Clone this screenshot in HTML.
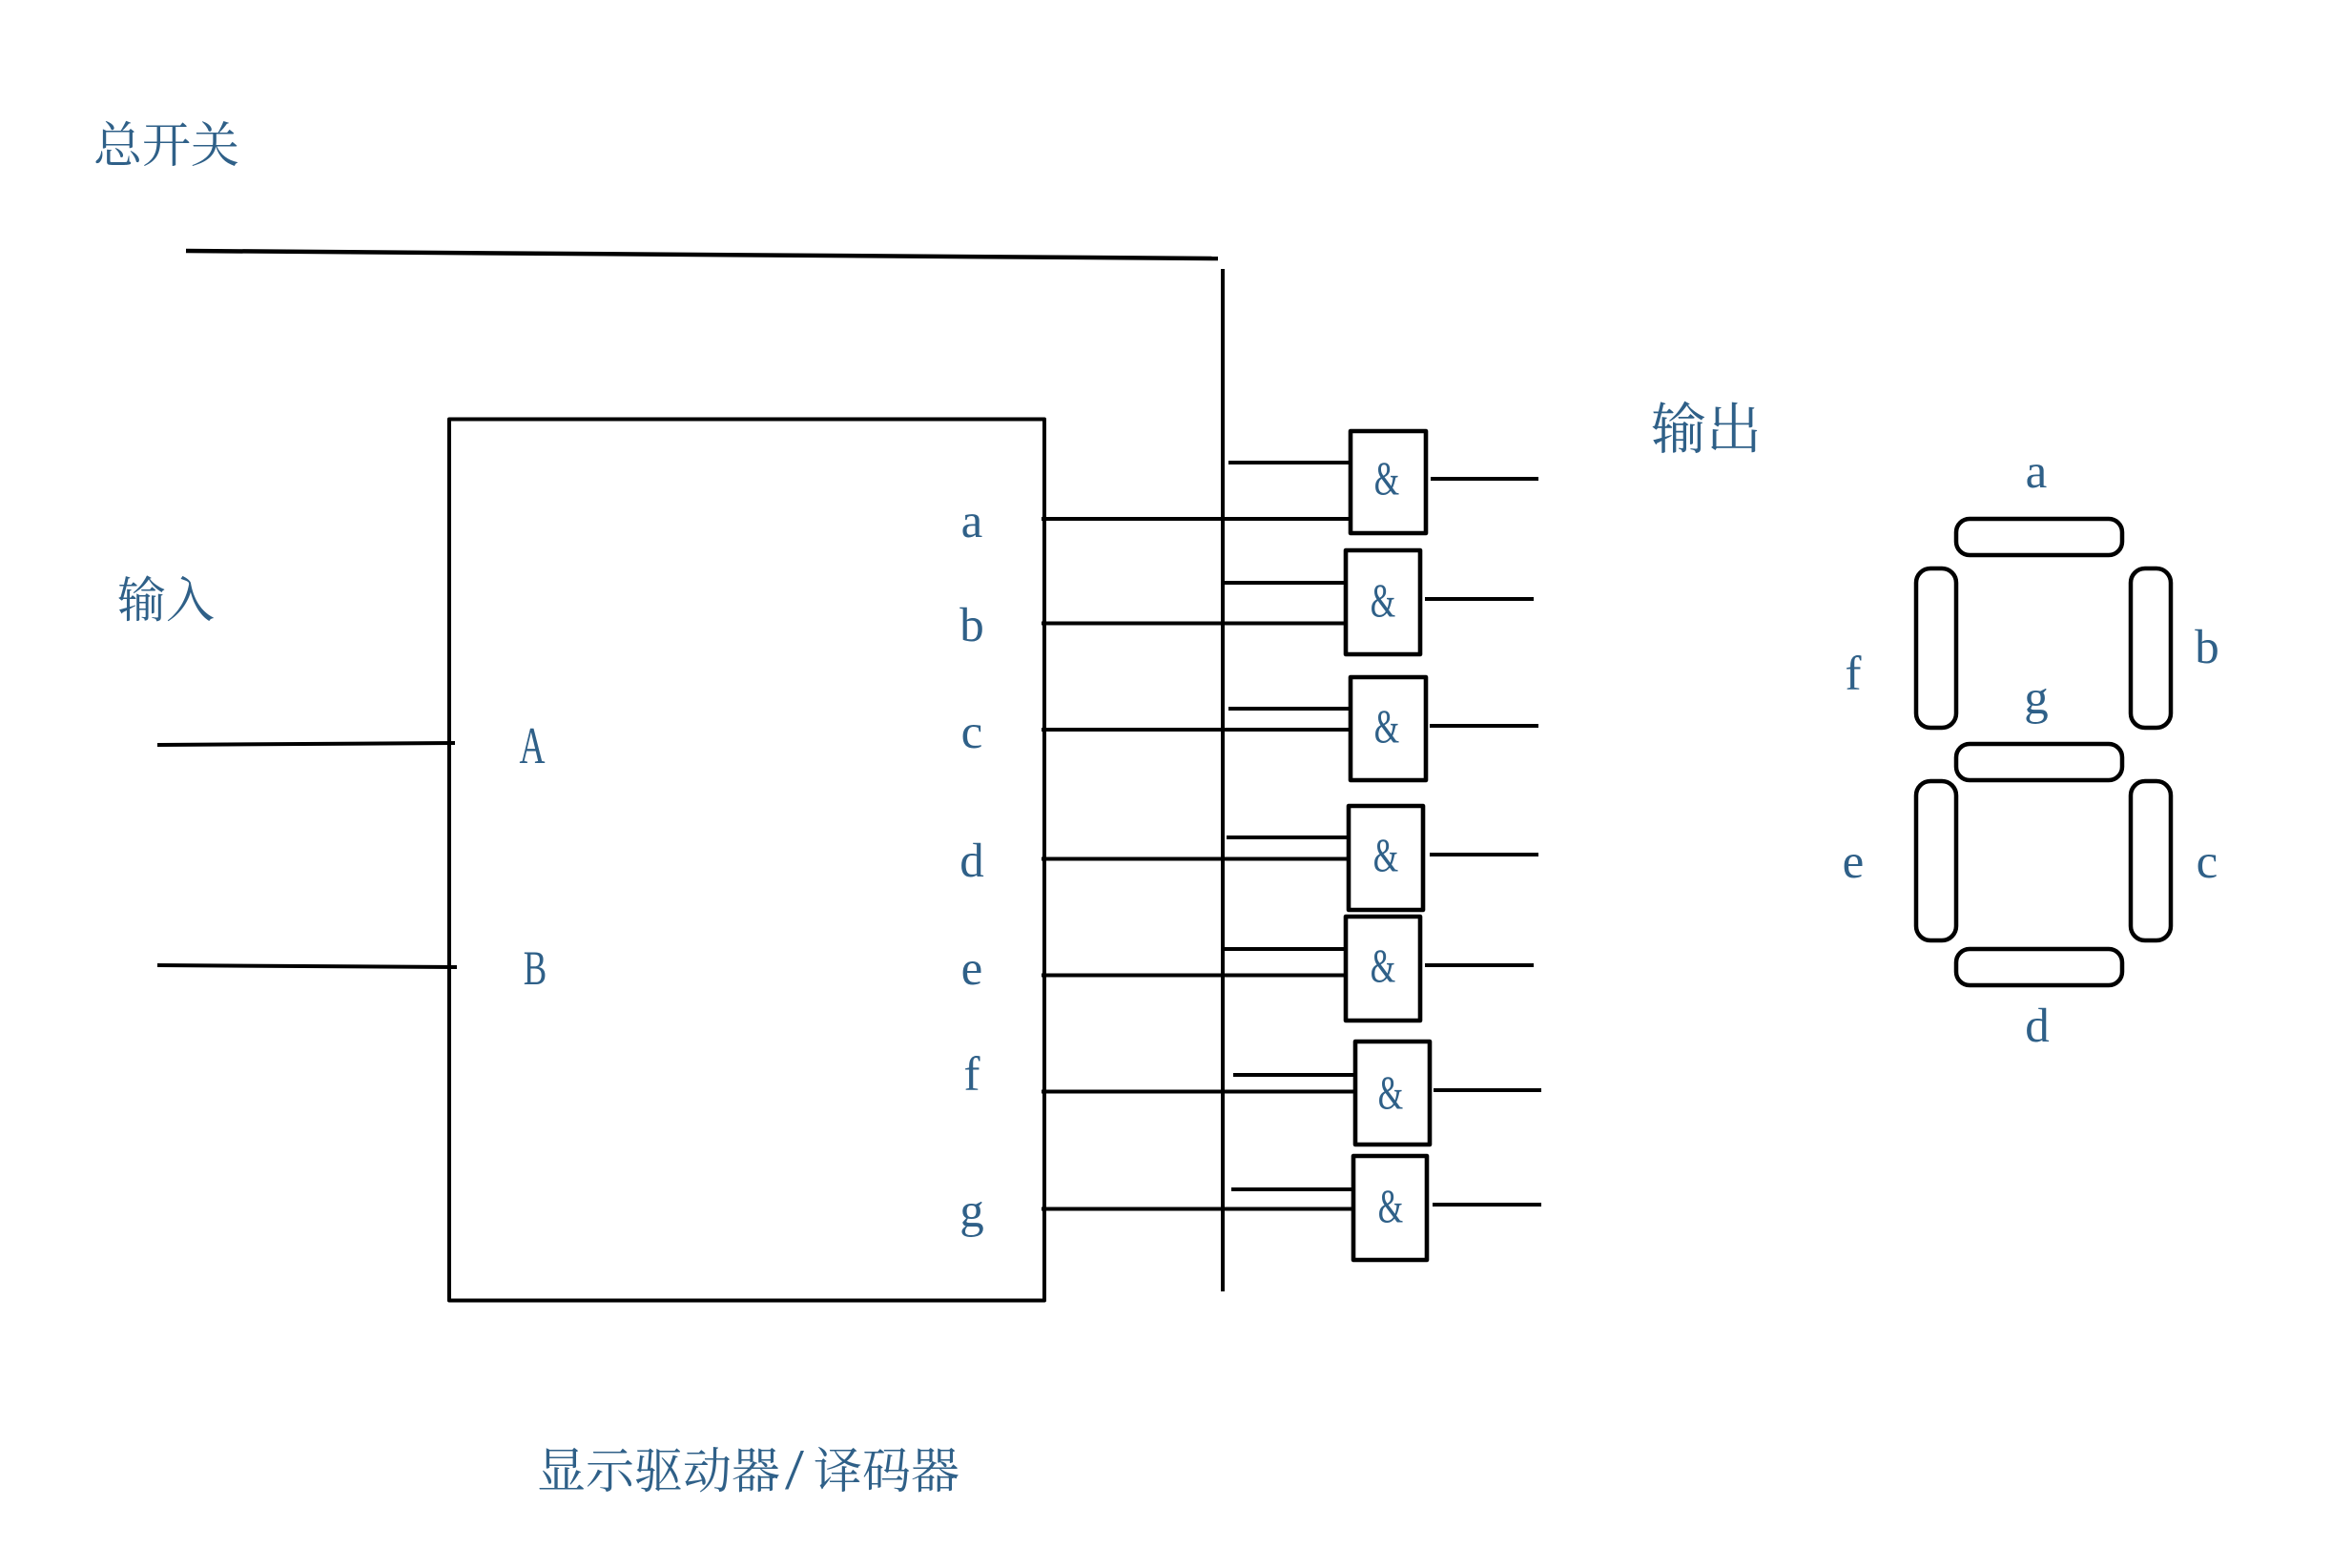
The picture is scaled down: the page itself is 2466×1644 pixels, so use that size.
<!DOCTYPE html>
<html>
<head>
<meta charset="utf-8">
<style>
html,body{margin:0;padding:0;background:#fff;width:2466px;height:1644px;overflow:hidden}
svg{display:block}
.w{stroke:#000;stroke-width:4;fill:none;stroke-linecap:butt;stroke-linejoin:round}
.g{stroke:#000;stroke-width:4.6;fill:none;stroke-linejoin:round}
.s{stroke:#000;stroke-width:4.5;fill:none}
text{fill:#2f6088;font-family:"Liberation Serif","Noto Serif CJK SC",serif}
.c{font-family:"Noto Serif CJK SC",serif;font-weight:400}
.m{text-anchor:middle;font-size:51px}
.amp{text-anchor:middle;font-size:50px;font-family:"Liberation Serif",serif}
</style>
</head>
<body>
<svg width="2466" height="1644" viewBox="0 0 2466 1644" xmlns="http://www.w3.org/2000/svg">
<rect width="2466" height="1644" fill="#fff"/>

<text class="c" x="98" y="170" font-size="51">总开关</text>
<text class="c" x="123" y="647" font-size="51">输入</text>
<text class="c" x="1731" y="470" font-size="58">输出</text>
<text class="c" x="563" y="1560" font-size="51">显示驱动器</text>
<text x="833" y="1561" font-size="60" text-anchor="middle" transform="translate(833 0) scale(1.2 1) translate(-833 0)">/</text>
<text class="c" x="853" y="1560" font-size="51">译码器</text>

<line class="w" x1="195" y1="263" x2="1277" y2="271" style="stroke-width:4.5"/>
<line class="w" x1="1282" y1="282" x2="1282" y2="1354"/>
<rect class="w" x="471" y="439.500" width="624" height="924"/>
<line class="w" x1="165" y1="781" x2="477" y2="779"/>
<line class="w" x1="165" y1="1012" x2="479" y2="1014"/>

<text class="m" transform="translate(558 800) scale(.68 1)" style="font-size:55px">A</text>
<text class="m" transform="translate(561 1032) scale(.72 1)">B</text>
<text class="m" x="1019" y="563">a</text>
<text class="m" x="1019" y="672">b</text>
<text class="m" x="1019" y="784">c</text>
<text class="m" x="1019" y="919">d</text>
<text class="m" x="1019" y="1032">e</text>
<text class="m" x="1019" y="1143">f</text>
<text class="m" x="1019" y="1286">g</text>

<!-- gate 1 -->
<rect class="g" x="1416" y="452" width="79" height="107"/>
<line class="w" x1="1288" y1="485" x2="1416" y2="485"/>
<line class="w" x1="1092" y1="544" x2="1416" y2="544"/>
<line class="w" x1="1500" y1="502" x2="1613" y2="502"/>
<text class="amp" transform="translate(1454 518) scale(.68 1)">&amp;</text>
<!-- gate 2 -->
<rect class="g" x="1411" y="577" width="78" height="109"/>
<line class="w" x1="1282" y1="611" x2="1411" y2="611"/>
<line class="w" x1="1092" y1="653.500" x2="1411" y2="653.500"/>
<line class="w" x1="1494" y1="628" x2="1608" y2="628"/>
<text class="amp" transform="translate(1450 646) scale(.68 1)">&amp;</text>
<!-- gate 3 -->
<rect class="g" x="1416" y="710" width="79" height="108"/>
<line class="w" x1="1288" y1="743" x2="1416" y2="743"/>
<line class="w" x1="1092" y1="765" x2="1416" y2="765"/>
<line class="w" x1="1499" y1="761" x2="1613" y2="761"/>
<text class="amp" transform="translate(1454 778) scale(.68 1)">&amp;</text>
<!-- gate 4 -->
<rect class="g" x="1414" y="845" width="78" height="109"/>
<line class="w" x1="1286" y1="878" x2="1414" y2="878"/>
<line class="w" x1="1092" y1="900.500" x2="1414" y2="900.500"/>
<line class="w" x1="1499" y1="896" x2="1613" y2="896"/>
<text class="amp" transform="translate(1453 913) scale(.68 1)">&amp;</text>
<!-- gate 5 -->
<rect class="g" x="1411" y="961" width="78" height="109"/>
<line class="w" x1="1282" y1="995" x2="1411" y2="995"/>
<line class="w" x1="1092" y1="1022.500" x2="1411" y2="1022.500"/>
<line class="w" x1="1494" y1="1012" x2="1608" y2="1012"/>
<text class="amp" transform="translate(1450 1029) scale(.68 1)">&amp;</text>
<!-- gate 6 -->
<rect class="g" x="1421" y="1092" width="78" height="108"/>
<line class="w" x1="1293" y1="1127" x2="1421" y2="1127"/>
<line class="w" x1="1092" y1="1144.500" x2="1421" y2="1144.500"/>
<line class="w" x1="1503" y1="1143" x2="1616" y2="1143"/>
<text class="amp" transform="translate(1458 1162) scale(.68 1)">&amp;</text>
<!-- gate 7 -->
<rect class="g" x="1419" y="1212" width="77" height="109"/>
<line class="w" x1="1291" y1="1247" x2="1419" y2="1247"/>
<line class="w" x1="1092" y1="1267.500" x2="1419" y2="1267.500"/>
<line class="w" x1="1502" y1="1263" x2="1616" y2="1263"/>
<text class="amp" transform="translate(1458 1281) scale(.68 1)">&amp;</text>

<!-- seven segment -->
<rect class="s" x="2051" y="544" width="174" height="38" rx="14"/>
<rect class="s" x="2009" y="596" width="42" height="167" rx="15"/>
<rect class="s" x="2234" y="596" width="42" height="167" rx="15"/>
<rect class="s" x="2051" y="780" width="174" height="38" rx="14"/>
<rect class="s" x="2009" y="819" width="42" height="167" rx="15"/>
<rect class="s" x="2234" y="819" width="42" height="167" rx="15"/>
<rect class="s" x="2051" y="995" width="174" height="38" rx="14"/>

<text class="m" x="2135" y="511">a</text>
<text class="m" x="2314" y="695">b</text>
<text class="m" x="2314" y="920">c</text>
<text class="m" x="2136" y="1092">d</text>
<text class="m" x="1943" y="920">e</text>
<text class="m" x="1943" y="723">f</text>
<text class="m" x="2135" y="748">g</text>
</svg>
</body>
</html>
